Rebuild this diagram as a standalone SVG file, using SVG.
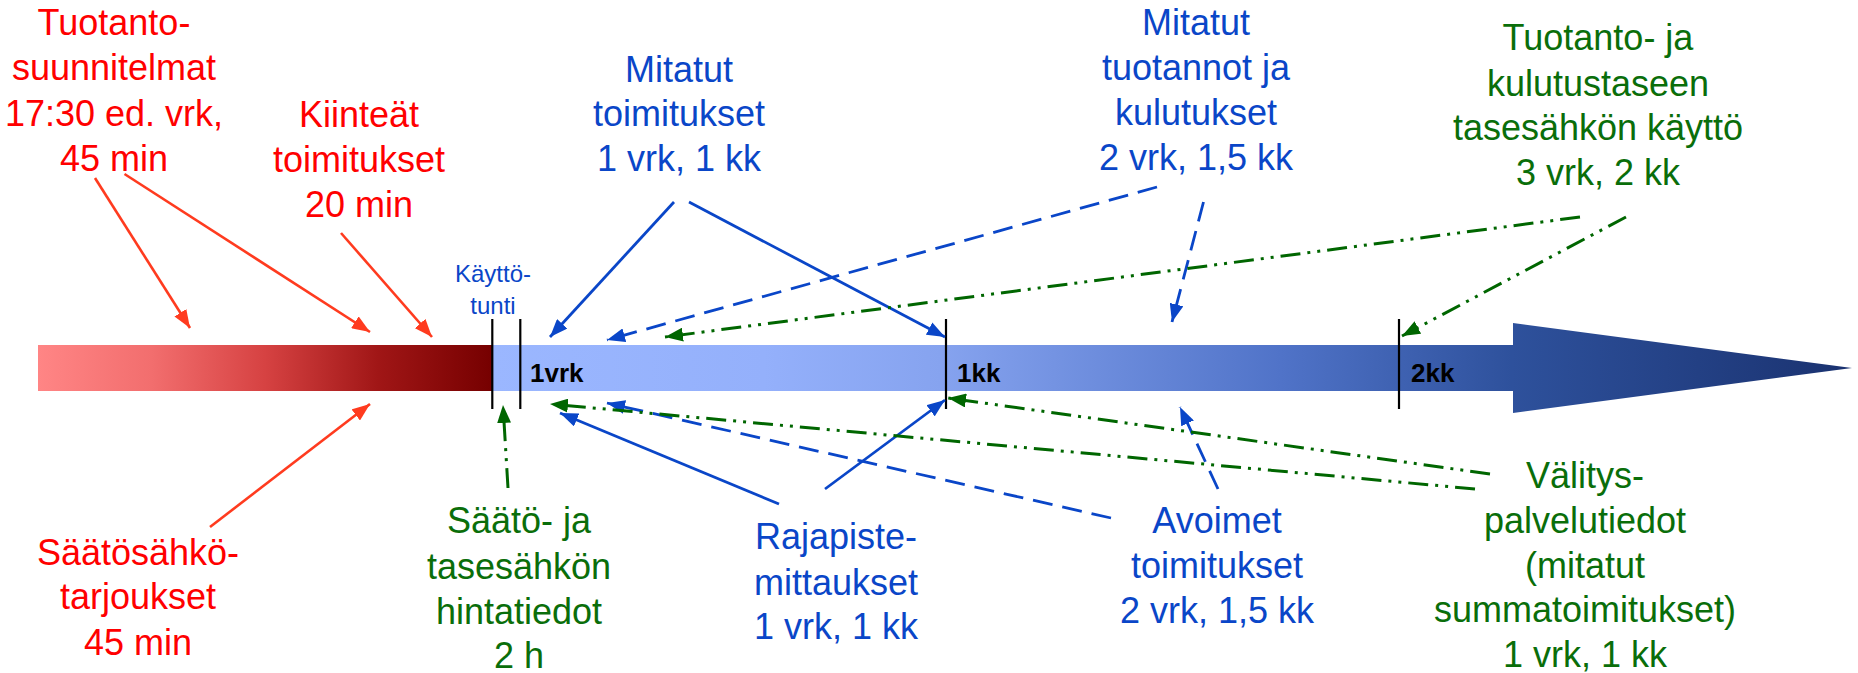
<svg xmlns="http://www.w3.org/2000/svg" width="1858" height="673" viewBox="0 0 1858 673">
<defs>
<linearGradient id="gRed" gradientUnits="userSpaceOnUse" x1="38" y1="0" x2="492" y2="0">
<stop offset="0" stop-color="#ff8585"/>
<stop offset="0.25" stop-color="#f26e6e"/>
<stop offset="0.5" stop-color="#d64242"/>
<stop offset="0.75" stop-color="#a01616"/>
<stop offset="1" stop-color="#760000"/>
</linearGradient>
<linearGradient id="gBlue" gradientUnits="userSpaceOnUse" x1="492" y1="0" x2="1852" y2="0">
<stop offset="0" stop-color="#9bb7ff"/>
<stop offset="0.2" stop-color="#94b0fb"/>
<stop offset="0.33" stop-color="#86a3ef"/>
<stop offset="0.58" stop-color="#5073c8"/>
<stop offset="0.75" stop-color="#2e519c"/>
<stop offset="1" stop-color="#1a3270"/>
</linearGradient>
<marker id="mRed" viewBox="0 0 18 14" refX="18" refY="7" markerWidth="18" markerHeight="14" markerUnits="userSpaceOnUse" orient="auto"><path d="M0 0 L18 7 L0 14 Z" fill="#ff3b1f"/></marker>
<marker id="mBlue" viewBox="0 0 18 14" refX="18" refY="7" markerWidth="18" markerHeight="14" markerUnits="userSpaceOnUse" orient="auto"><path d="M0 0 L18 7 L0 14 Z" fill="#0a46c8"/></marker>
<marker id="mGreen" viewBox="0 0 18 14" refX="18" refY="7" markerWidth="18" markerHeight="14" markerUnits="userSpaceOnUse" orient="auto"><path d="M0 0 L18 7 L0 14 Z" fill="#006600"/></marker>
</defs>
<style>
text{font-family:"Liberation Sans",Arial,sans-serif;}
.lbl{font-size:36px;text-anchor:middle;}
.red{fill:#ff0000;}
.blue{fill:#0a46c8;}
.green{fill:#0a6e0a;}
.tick{stroke:#000;stroke-width:2.2;}
.bt{font-size:26px;font-weight:bold;fill:#000;}
.cr{stroke:#ff3b1f;stroke-width:2.6;fill:none;marker-end:url(#mRed);}
.cb{stroke:#0a46c8;stroke-width:2.8;fill:none;marker-end:url(#mBlue);}
.cbd{stroke:#0a46c8;stroke-width:2.8;fill:none;stroke-dasharray:20 10;marker-end:url(#mBlue);}
.cg{stroke:#006600;stroke-width:3;fill:none;stroke-dasharray:20 7 3 7 3 7;marker-end:url(#mGreen);}
</style>
<g id="timeline">
<rect x="38" y="345" width="454.3" height="46" fill="url(#gRed)"/>
<path d="M492 345 H1513 V323 L1852 368 L1513 413 V391 H492 Z" fill="url(#gBlue)"/>
<line class="tick" x1="492.3" y1="319" x2="492.3" y2="409"/>
<line class="tick" x1="520.3" y1="319" x2="520.3" y2="409"/>
<line class="tick" x1="946" y1="319" x2="946" y2="409"/>
<line class="tick" x1="1399" y1="319" x2="1399" y2="409"/>
<text class="bt" x="530" y="382">1vrk</text>
<text class="bt" x="957" y="382">1kk</text>
<text class="bt" x="1411" y="382">2kk</text>
</g>
<g id="kayttotunti">
<text class="blue" style="font-size:24px;text-anchor:middle" x="493" y="282">Käyttö-</text>
<text class="blue" style="font-size:24px;text-anchor:middle" x="493" y="314">tunti</text>
</g>
<g id="tuotantosuunnitelmat">
<text class="lbl red" x="114" y="35">Tuotanto-</text>
<text class="lbl red" x="114" y="80">suunnitelmat</text>
<text class="lbl red" x="114" y="125.7">17:30 ed. vrk,</text>
<text class="lbl red" x="114" y="170.7">45 min</text>
</g>
<g id="kiinteat">
<text class="lbl red" x="359" y="126.7">Kiinteät</text>
<text class="lbl red" x="359" y="171.7">toimitukset</text>
<text class="lbl red" x="359" y="216.7">20 min</text>
</g>
<g id="saatosahkotarjoukset">
<text class="lbl red" x="138" y="565">Säätösähkö-</text>
<text class="lbl red" x="138" y="609">tarjoukset</text>
<text class="lbl red" x="138" y="655">45 min</text>
</g>
<g id="mitatuttoimitukset">
<text class="lbl blue" x="679" y="81.7">Mitatut</text>
<text class="lbl blue" x="679" y="126">toimitukset</text>
<text class="lbl blue" x="679" y="170.7">1 vrk, 1 kk</text>
</g>
<g id="mitatuttuotannot">
<text class="lbl blue" x="1196" y="35">Mitatut</text>
<text class="lbl blue" x="1196" y="80">tuotannot ja</text>
<text class="lbl blue" x="1196" y="125">kulutukset</text>
<text class="lbl blue" x="1196" y="170">2 vrk, 1,5 kk</text>
</g>
<g id="tasesahkonkaytto">
<text class="lbl green" x="1598" y="50">Tuotanto- ja</text>
<text class="lbl green" x="1598" y="95.7">kulutustaseen</text>
<text class="lbl green" x="1598" y="140">tasesähkön käyttö</text>
<text class="lbl green" x="1598" y="185">3 vrk, 2 kk</text>
</g>
<g id="saatohintatiedot">
<text class="lbl green" x="519" y="533.3">Säätö- ja</text>
<text class="lbl green" x="519" y="579">tasesähkön</text>
<text class="lbl green" x="519" y="624">hintatiedot</text>
<text class="lbl green" x="519" y="668">2 h</text>
</g>
<g id="rajapiste">
<text class="lbl blue" x="836" y="549.3">Rajapiste-</text>
<text class="lbl blue" x="836" y="595">mittaukset</text>
<text class="lbl blue" x="836" y="639.3">1 vrk, 1 kk</text>
</g>
<g id="avoimet">
<text class="lbl blue" x="1217" y="533.3">Avoimet</text>
<text class="lbl blue" x="1217" y="578.3">toimitukset</text>
<text class="lbl blue" x="1217" y="623.3">2 vrk, 1,5 kk</text>
</g>
<g id="valitys">
<text class="lbl green" x="1585" y="488.3">Välitys-</text>
<text class="lbl green" x="1585" y="533.3">palvelutiedot</text>
<text class="lbl green" x="1585" y="578.3">(mitatut</text>
<text class="lbl green" x="1585" y="622.3">summatoimitukset)</text>
<text class="lbl green" x="1585" y="666.7">1 vrk, 1 kk</text>
</g>
<g id="connectors">
<line class="cr" x1="95" y1="178" x2="190" y2="328"/>
<line class="cr" x1="124.5" y1="174" x2="370" y2="332"/>
<line class="cr" x1="341" y1="233" x2="432" y2="337"/>
<line class="cr" x1="210" y1="527" x2="370" y2="404"/>
<line class="cb" x1="674" y1="202" x2="550" y2="337"/>
<line class="cb" x1="689" y1="202" x2="945" y2="337"/>
<line class="cb" x1="779" y1="504" x2="560" y2="413"/>
<line class="cb" x1="825" y1="489" x2="945" y2="400"/>
<line class="cbd" x1="1157" y1="187" x2="607" y2="340"/>
<line class="cbd" x1="1203.5" y1="202" x2="1172" y2="322"/>
<line class="cbd" x1="1111" y1="518" x2="607" y2="403"/>
<line class="cbd" x1="1218" y1="489" x2="1180" y2="407"/>
<line class="cg" x1="1580" y1="217" x2="665" y2="337"/>
<line class="cg" x1="1626" y1="217" x2="1402" y2="336"/>
<line class="cg" x1="1490" y1="474" x2="948" y2="398"/>
<line class="cg" x1="1475" y1="489" x2="550" y2="404"/>
<line class="cg" x1="508" y1="488" x2="503" y2="405"/>
</g>
</svg>
